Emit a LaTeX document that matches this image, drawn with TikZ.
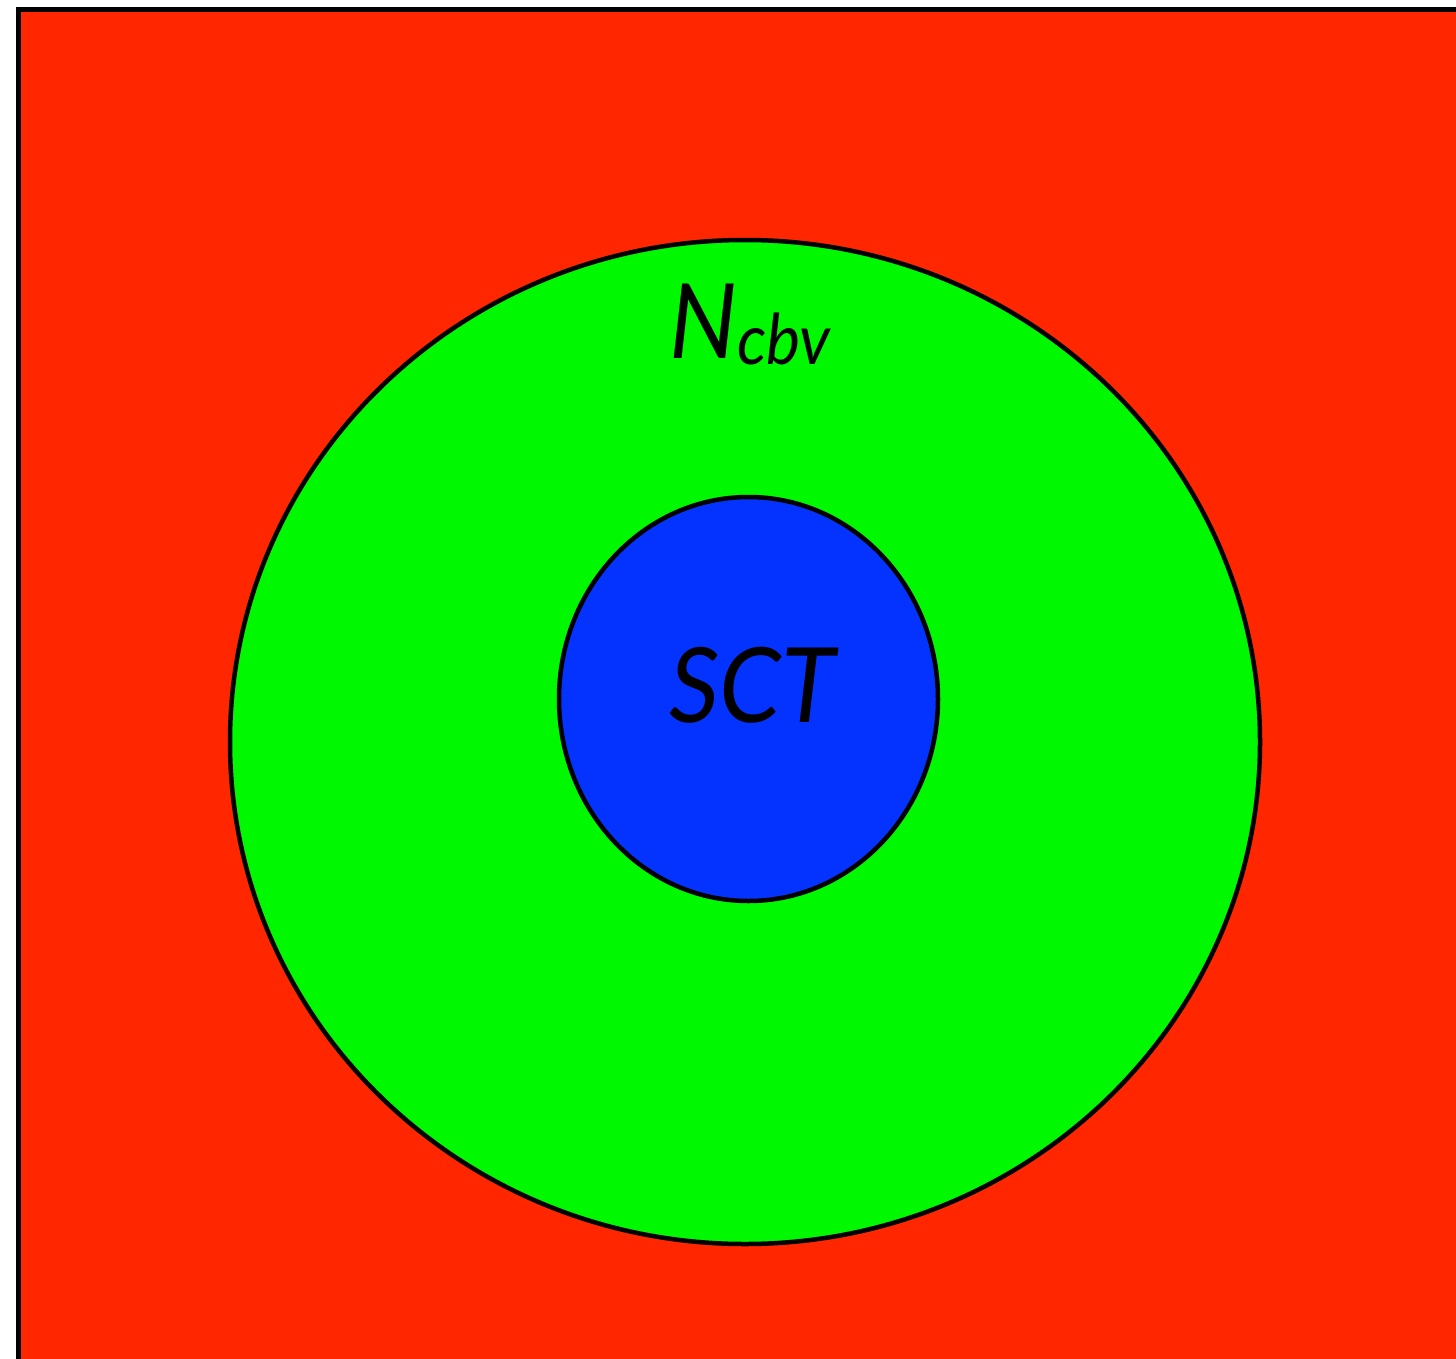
\documentclass[tikz,border=0pt]{standalone}
\usepackage{fontspec}
\setmainfont{Lato}
\definecolor{bgred}{HTML}{FF2600}
\definecolor{ringgreen}{HTML}{00F900}
\definecolor{coreblue}{HTML}{0433FF}
\begin{document}
\begin{tikzpicture}[x=1pt,y=-1pt,
  region/.style={draw=black,line width=4.5pt},
  lbl/.style={inner sep=0pt,anchor=base,font=\itshape\fontsize{104}{104}\selectfont}]
\useasboundingbox (0,0) rectangle (1456,1359);
\begin{scope}
\clip (0,0) rectangle (1456,1359);
\fill[bgred] (18,10) rectangle (1480,1380);
\draw[line width=5pt] (18,1380) -- (18,10) -- (1480,10);
\end{scope}
\draw[region,fill=ringgreen] (745,742) ellipse [x radius=515,y radius=502];
\draw[region,fill=coreblue] (748.5,699) ellipse [x radius=189.5,y radius=202];
\node[lbl,xscale=0.92] (ncbv) at (750,358) {N\raisebox{-6pt}{\fontsize{70}{70}\selectfont cbv}};
\node[lbl,xscale=0.95] (sct) at (752,722) {SCT};
\end{tikzpicture}
\end{document}
